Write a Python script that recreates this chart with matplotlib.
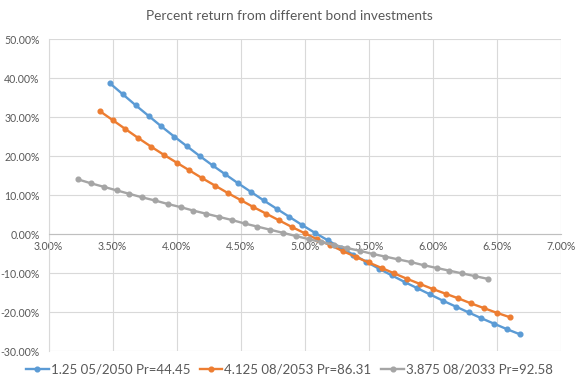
import numpy as np
import matplotlib
matplotlib.use("Agg")
import matplotlib.pyplot as plt
from matplotlib.ticker import FuncFormatter, MultipleLocator

# yields (percent) - 0.1% steps, 33 points per bond
yield_1250 = [3.48 + 0.1 * i for i in range(33)]
yield_4125 = [3.40 + 0.1 * i for i in range(33)]
yield_3875 = [3.23 + 0.1 * i for i in range(33)]

# percent return
ret_1250 = [38.6, 35.8, 33.0, 30.3, 27.6, 25.0, 22.5, 20.0, 17.6, 15.3, 13.0,
            10.8, 8.6, 6.5, 4.4, 2.3, 0.3, -1.6, -3.5, -5.3, -7.1, -8.9,
            -10.6, -12.3, -13.9, -15.5, -17.1, -18.6, -20.1, -21.6, -23.0,
            -24.4, -25.7]
ret_4125 = [31.5, 29.2, 26.9, 24.6, 22.4, 20.3, 18.3, 16.3, 14.3, 12.4, 10.5,
            8.7, 6.9, 5.2, 3.5, 1.8, 0.2, -1.4, -2.9, -4.4, -5.9, -7.3,
            -8.7, -10.1, -11.5, -12.8, -14.1, -15.3, -16.5, -17.8, -19.0,
            -20.2, -21.3]
ret_3875 = [14.0, 13.0, 12.1, 11.2, 10.3, 9.4, 8.6, 7.7, 6.9, 6.0, 5.2,
            4.4, 3.6, 2.7, 1.9, 1.1, 0.3, -0.5, -1.3, -2.1, -2.8, -3.6,
            -4.3, -5.1, -5.8, -6.5, -7.2, -8.0, -8.7, -9.4, -10.1, -10.8,
            -11.5]

labels = ["1.25 05/2050 Pr=44.45", "4.125 08/2053 Pr=86.31", "3.875 08/2033 Pr=92.58"]
colors = ["#5B9BD5", "#ED7D31", "#A5A5A5"]

plt.rcParams["font.family"] = ["Lato", "DejaVu Sans"]
TEXT = "#595959"
GRID = "#D9D9D9"

fig = plt.figure(figsize=(5.79, 3.87), dpi=100)
ax = fig.add_axes([0.0841, 0.0930, 0.9684 - 0.0841, 0.8992 - 0.0930])

series = [(yield_1250, ret_1250), (yield_4125, ret_4125), (yield_3875, ret_3875)]
for (x, y), lab, col in zip(series, labels, colors):
    ax.plot(np.array(x) / 100, np.array(y) / 100, color=col, lw=1.7,
            marker="o", markersize=3.4, label=lab, zorder=3)

ax.set_xlim(0.03, 0.07)
ax.set_ylim(-0.30, 0.50)
ax.xaxis.set_major_locator(MultipleLocator(0.005))
ax.yaxis.set_major_locator(MultipleLocator(0.10))
pct = FuncFormatter(lambda v, _: f"{v * 100:.2f}%")
ax.xaxis.set_major_formatter(pct)
ax.yaxis.set_major_formatter(pct)

ax.grid(True, color=GRID, lw=0.8, zorder=0)
ax.set_axisbelow(True)
for side in ["top", "right"]:
    ax.spines[side].set_visible(False)
ax.spines["left"].set_color(GRID)
ax.spines["bottom"].set_color("#BFBFBF")
ax.spines["bottom"].set_position(("data", 0))
ax.tick_params(axis="both", length=0, labelsize=7.6, labelcolor=TEXT)
ax.tick_params(axis="y", pad=6.5)
ax.tick_params(axis="x", pad=5)

fig.text(0.5, 0.958, "Percent return from different bond investments",
         ha="center", va="center", fontsize=9.8, color=TEXT)

fig.legend(loc="lower center", bbox_to_anchor=(0.5, 0.0), ncol=3, frameon=False,
           fontsize=9.5, labelcolor=TEXT, handlelength=1.7, handletextpad=0.15,
           columnspacing=0.75)

fig.savefig("out.png", dpi=100)
